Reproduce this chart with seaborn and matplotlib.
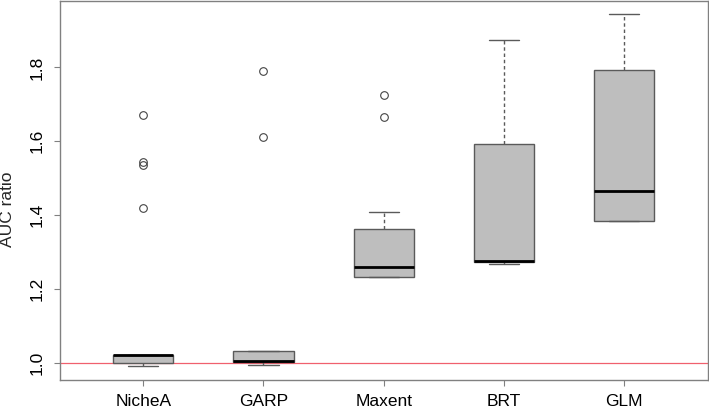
import matplotlib
matplotlib.use("Agg")
import matplotlib.pyplot as plt
import pandas as pd
import seaborn as sns

# AUC ratio per model
models = ["NicheA", "GARP", "Maxent", "BRT", "GLM"]
niche_a = [0.991, 0.995, 0.998, 0.999, 1.000, 1.002, 1.008, 1.015, 1.020,
           1.020, 1.021, 1.021, 1.021, 1.418, 1.535, 1.545, 1.672]
garp = [0.994, 0.998, 1.002, 1.003, 1.004, 1.015, 1.032, 1.612, 1.789]
maxent = [1.231, 1.231, 1.231, 1.231, 1.240, 1.250, 1.259, 1.280, 1.320,
          1.362, 1.408, 1.666, 1.725]
brt = [1.266, 1.274, 1.276, 1.592, 1.874]
glm = [1.384, 1.384, 1.465, 1.793, 1.944]

df = pd.concat([
    pd.DataFrame({"model": m, "auc": v})
    for m, v in zip(models, [niche_a, garp, maxent, brt, glm])
])

sns.set_style("white")
plt.rcParams["font.family"] = ["Liberation Sans", "DejaVu Sans"]

fig = plt.figure(figsize=(7.09, 4.08), dpi=100)
ax = fig.add_axes([60 / 709, 28 / 408, 648 / 709, 379 / 408])

grey_edge = "#5a5a5a"
sns.boxplot(
    data=df, x="model", y="auc", order=models, ax=ax,
    color="#bebebe", saturation=1, width=0.5, whis=1.5,
    linecolor=grey_edge, linewidth=1,
    whiskerprops=dict(linestyle=(0, (2.5, 2)), color=grey_edge),
    capprops=dict(color=grey_edge),
    medianprops=dict(color="black", linewidth=2),
    flierprops=dict(marker="o", markerfacecolor="none",
                    markeredgecolor="#444444", markersize=5.5,
                    markeredgewidth=0.8),
)

# reference line at ratio 1
ax.axhline(1.0, color="#f0606e", linewidth=0.9, zorder=0.5)

ax.set_xlim(-0.692, 4.696)
ax.set_ylim(0.953, 1.98)
ax.set_yticks([1.0, 1.2, 1.4, 1.6, 1.8])
ax.set_yticklabels(["1.0", "1.2", "1.4", "1.6", "1.8"], rotation=90, va="center")
ax.set_xlabel("")
ax.set_ylabel("AUC ratio", fontsize=12.5)
ax.yaxis.set_label_coords(-0.069, 0.45)

for s in ax.spines.values():
    s.set_color("#808080")
    s.set_linewidth(1)
    s.set_visible(True)
ax.tick_params(axis="both", direction="out", length=4, width=0.8,
               color="#808080", labelsize=12.5, labelcolor="black")
ax.tick_params(axis="y", pad=7, left=True)
ax.tick_params(axis="x", pad=6, bottom=True)

fig.savefig("out.png", dpi=100)
